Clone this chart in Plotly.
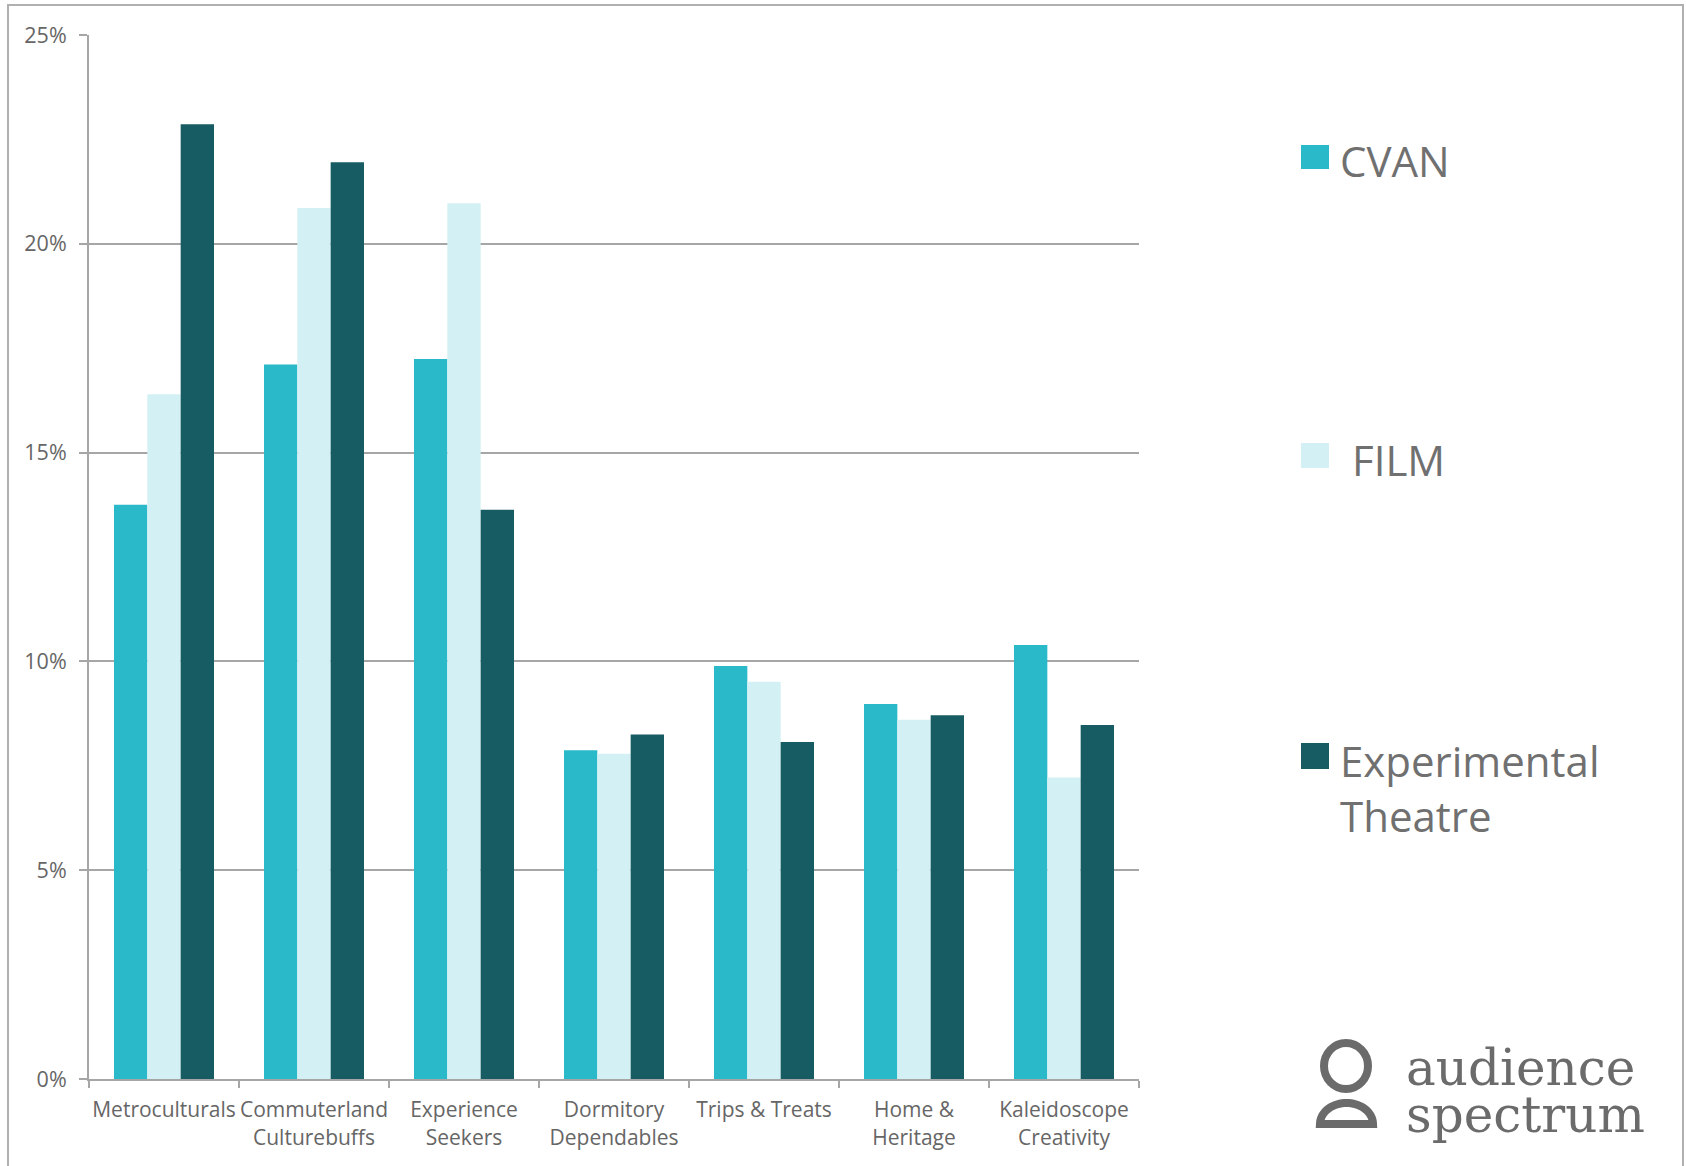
import plotly.graph_objects as go
import math

categories = ["Metroculturals", "Commuterland<br>Culturebuffs", "Experience<br>Seekers",
              "Dormitory<br>Dependables", "Trips & Treats", "Home &<br>Heritage",
              "Kaleidoscope<br>Creativity"]
cvan = [13.75, 17.11, 17.24, 7.87, 9.89, 8.98, 10.39]
film = [16.40, 20.86, 20.97, 7.79, 9.51, 8.60, 7.22]
experimental = [22.86, 21.95, 13.63, 8.25, 8.07, 8.71, 8.48]
series_names = ["CVAN", "FILM", "Experimental<br>Theatre"]
y_ticks = [0, 5, 10, 15, 20, 25]

W, H = 1686, 1166
L, R, T, B = 89, 1139, 35, 1079

def px(x):
    return (x - L) / (R - L)

def py(y):
    return (B - y) / (B - T)

C_CVAN = "#29b9c8"
C_FILM = "#d3f1f4"
C_EXP = "#175c63"
GRID = "#a6a6a6"
TXT = "#666666"

fig = go.Figure()
for name, vals, col in [("CVAN", cvan, C_CVAN), ("FILM", film, C_FILM),
                        ("Experimental Theatre", experimental, C_EXP)]:
    fig.add_trace(go.Bar(x=categories, y=vals, name=name, marker_color=col,
                         marker_line_width=0, showlegend=False))

fig.update_layout(
    width=W, height=H,
    margin=dict(l=L, r=W - R, t=T, b=H - B, autoexpand=False),
    paper_bgcolor="white", plot_bgcolor="white",
    barmode="group", bargap=0.3333, bargroupgap=0,
    font=dict(family="Open Sans", color=TXT),
)
fig.update_xaxes(
    showline=True, linecolor=GRID, linewidth=2,
    ticks="outside", tickson="boundaries", ticklen=7, tickwidth=2, tickcolor=GRID,
    tickfont=dict(family="Open Sans", size=21, color=TXT),
    tickangle=0, automargin=False,
    showgrid=False, ticklabelstandoff=11,
)
fig.update_yaxes(
    range=[0, 25], tickvals=y_ticks, ticktext=[f"{v}%" for v in y_ticks],
    showline=True, linecolor=GRID, linewidth=2,
    ticks="outside", ticklen=8, tickwidth=2, tickcolor=GRID,
    showgrid=True, gridcolor=GRID, gridwidth=2, zeroline=False,
    tickfont=dict(family="Open Sans", size=21.5, color=TXT),
    ticklabelstandoff=8, automargin=False,
)

shapes = []
shapes.append(dict(type="rect", xref="paper", yref="paper",
                   x0=px(8), x1=px(1683), y0=py(1175), y1=py(5),
                   line=dict(color="#b0b0b0", width=2), fillcolor="rgba(0,0,0,0)", layer="below"))

legend_items = [(145, 169, C_CVAN), (443, 468, C_FILM), (743, 769, C_EXP)]
for y0, y1, col in legend_items:
    shapes.append(dict(type="rect", xref="paper", yref="paper",
                       x0=px(1301), x1=px(1329), y0=py(y1), y1=py(y0),
                       line=dict(width=0), fillcolor=col))

annotations = []
legend_text = [(1338, 160, series_names[0]), (1350, 459, series_names[1]),
               (1338, 788, series_names[2])]
for x, y, t in legend_text:
    annotations.append(dict(x=px(x), y=py(y), xref="paper", yref="paper", text=t,
                            showarrow=False, xanchor="left", yanchor="middle", align="left",
                            font=dict(family="Open Sans", size=42, color="#707070")))

LOGO = "#6b6b6b"
shapes.append(dict(type="circle", xref="paper", yref="paper",
                   x0=px(1324), x1=px(1368), y0=py(1089), y1=py(1043),
                   line=dict(color=LOGO, width=8), fillcolor="rgba(0,0,0,0)"))
cx, cy, rx, ry = 1346.5, 1124, 26.5, 21
pts = []
for i in range(0, 37):
    a = math.pi * i / 36
    pts.append((cx - rx * math.cos(a), cy - ry * math.sin(a)))
path = "M " + " L ".join(f"{px(x):.5f},{py(y):.5f}" for x, y in pts) + " Z"
shapes.append(dict(type="path", xref="paper", yref="paper", path=path,
                   line=dict(color=LOGO, width=8), fillcolor="rgba(0,0,0,0)"))

annotations.append(dict(x=px(1404), y=py(1068), xref="paper", yref="paper", text="audience",
                        showarrow=False, xanchor="left", yanchor="middle",
                        font=dict(family="DejaVu Serif", size=50, color=LOGO)))
annotations.append(dict(x=px(1404), y=py(1115), xref="paper", yref="paper", text="spectrum",
                        showarrow=False, xanchor="left", yanchor="middle",
                        font=dict(family="DejaVu Serif", size=50, color=LOGO)))

fig.update_layout(shapes=shapes, annotations=annotations)
fig.write_html("out.html")
